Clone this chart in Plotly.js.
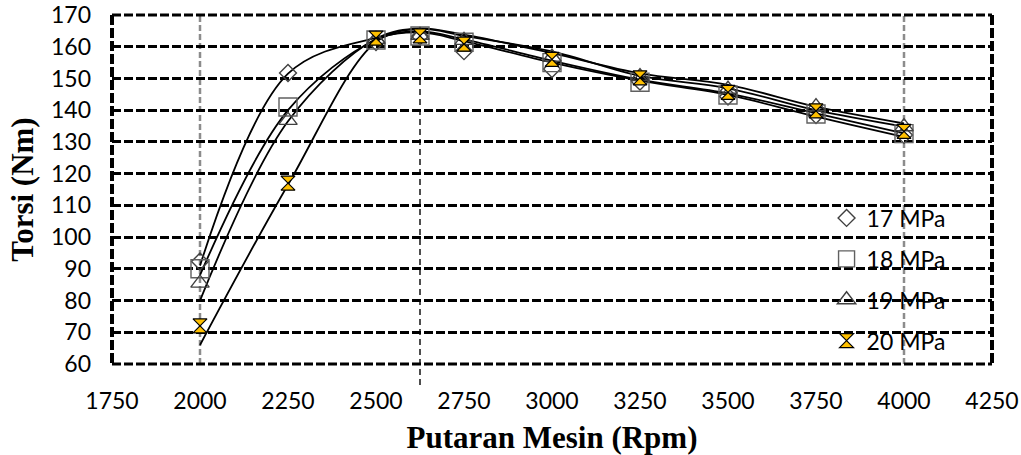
<!DOCTYPE html>
<html>
<head>
<meta charset="utf-8">
<script src="https://cdn.plot.ly/plotly-3.0.1.min.js"></script>
<style>
  html, body { margin: 0; padding: 0; background: #fff; }
  #chart { width: 1021px; height: 455px; }
</style>
</head>
<body>
<div id="chart"></div>
<script>
// Engine speed (rpm)
const rpm = [2000, 2250, 2500, 2625, 2750, 3000, 3250, 3500, 3750, 4000];

// Measured torque (Nm) — markers
const torsi17 = [92.3, 151.7, 161.5, 163.3, 158.6, 153.0, 149.0, 144.3, 138.5, 132.2];
const torsi18 = [90.0, 141.0, 162.1, 163.4, 161.4, 155.0, 148.8, 144.8, 138.8, 132.6];
const torsi19 = [85.5, 136.8, 162.3, 163.6, 162.0, 156.7, 150.6, 146.6, 141.1, 134.8];
const torsi20 = [72.0, 117.0, 162.7, 163.4, 160.8, 156.0, 150.2, 145.6, 139.8, 133.3];

// Trend curves (Nm) at the same speeds
const curve17 = [91.0, 151.5, 162.8, 164.5, 161.8, 155.0, 149.3, 144.8, 138.0, 131.6];
const curve18 = [88.0, 140.0, 162.2, 164.8, 162.3, 155.6, 149.6, 145.3, 139.0, 132.7];
const curve19 = [80.0, 136.5, 162.5, 165.8, 163.8, 158.0, 151.6, 148.0, 141.1, 135.8];
const curve20 = [66.0, 116.5, 161.5, 165.6, 163.4, 158.5, 150.8, 146.9, 140.0, 134.8];

const seriesNames = ['17 MPa', '18 MPa', '19 MPa', '20 MPa'];
const yTicks = [60, 70, 80, 90, 100, 110, 120, 130, 140, 150, 160, 170];
const xTicks = [1750, 2000, 2250, 2500, 2750, 3000, 3250, 3500, 3750, 4000, 4250];
const guideRpm = [2000, 4000];
const peakRpm = 2625;

const curves = [curve17, curve18, curve19, curve20];
const points = [torsi17, torsi18, torsi19, torsi20];

const markerStyles = [
  {symbol: 'diamond-open', size: 13, color: '#404040', line: {color: '#404040', width: 1.4}},
  {symbol: 'square-open', size: 18, color: '#606060', line: {color: '#606060', width: 1.4}},
  {symbol: 'triangle-up-open', size: 16, color: '#404040', line: {color: '#404040', width: 1.4}},
  {symbol: 'hourglass', size: 14, color: '#FFC000', line: {color: '#000000', width: 1.2}}
];

const traces = [];
curves.forEach((c, i) => {
  traces.push({
    x: rpm, y: c, mode: 'lines', type: 'scatter',
    line: {color: '#000', width: 1.8, shape: 'spline', smoothing: 1},
    showlegend: false, hoverinfo: 'skip', legendgroup: 'g' + i
  });
});
points.forEach((p, i) => {
  traces.push({
    x: rpm, y: p, mode: 'markers', type: 'scatter', name: seriesNames[i],
    marker: markerStyles[i], legendgroup: 'g' + i
  });
});

const xMin = xTicks[0], xMax = xTicks[xTicks.length - 1];
const yMin = yTicks[0], yMax = yTicks[yTicks.length - 1];

const shapes = [];
// grey dashed guides
guideRpm.forEach(g => shapes.push({
  type: 'line', xref: 'x', yref: 'paper', x0: g, x1: g, y0: 0, y1: 1,
  line: {color: '#8c8c8c', width: 2.5, dash: '6px,3px'}, layer: 'below'
}));
// drop line from peak
shapes.push({
  type: 'line', xref: 'x', yref: 'paper', x0: peakRpm, x1: peakRpm, y0: -0.06, y1: 0.915,
  line: {color: '#222', width: 1.6, dash: '6px,4px'}, layer: 'below'
});
// dashed frame
shapes.push({type: 'line', xref: 'paper', yref: 'paper', x0: 0, x1: 1, y0: 1, y1: 1,
  line: {color: '#000', width: 3, dash: '9px,3px'}});
shapes.push({type: 'line', xref: 'paper', yref: 'paper', x0: 0, x1: 1, y0: 0, y1: 0,
  line: {color: '#000', width: 3, dash: '9px,3px'}});
shapes.push({type: 'line', xref: 'paper', yref: 'paper', x0: 0, x1: 0, y0: 1, y1: 0,
  line: {color: '#000', width: 4, dash: '10px,3px'}});
shapes.push({type: 'line', xref: 'paper', yref: 'paper', x0: 1, x1: 1, y0: 1, y1: 0,
  line: {color: '#000', width: 4, dash: '10px,3px'}});

const layout = {
  width: 1021, height: 455,
  margin: {l: 112, r: 29, t: 15, b: 91},
  paper_bgcolor: '#fff', plot_bgcolor: '#fff',
  font: {family: 'Lato, sans-serif', color: '#000'},
  showlegend: true,
  legend: {
    x: 0.812, xanchor: 'left', y: 0.48, yanchor: 'top',
    bgcolor: 'rgba(0,0,0,0)', borderwidth: 0,
    font: {family: 'Lato, sans-serif', size: 23, color: '#000'},
    tracegroupgap: 8
  },
  xaxis: {
    range: [xMin, xMax], tickvals: xTicks, ticktext: xTicks.map(String),
    showgrid: false, zeroline: false, showline: false, ticks: '',
    ticklabelstandoff: 21,
    tickfont: {family: 'Lato, sans-serif', size: 23, color: '#000'},
    title: {text: 'Putaran Mesin (Rpm)', standoff: 14,
      font: {family: '"Liberation Serif", "Times New Roman", serif', size: 31, color: '#000', weight: 'bold'}}
  },
  yaxis: {
    range: [yMin, yMax], tickvals: yTicks, ticktext: yTicks.map(String),
    showgrid: true, gridcolor: '#000', gridwidth: 3, griddash: '9px,3px',
    zeroline: false, showline: false, ticks: '',
    ticklabelstandoff: 20,
    tickfont: {family: 'Lato, sans-serif', size: 23, color: '#000'},
    title: {text: 'Torsi (Nm)', standoff: 8,
      font: {family: '"Liberation Serif", "Times New Roman", serif', size: 31, color: '#000', weight: 'bold'}}
  },
  shapes: shapes
};

Plotly.newPlot('chart', traces, layout, {displayModeBar: false, staticPlot: true});
</script>
</body>
</html>
